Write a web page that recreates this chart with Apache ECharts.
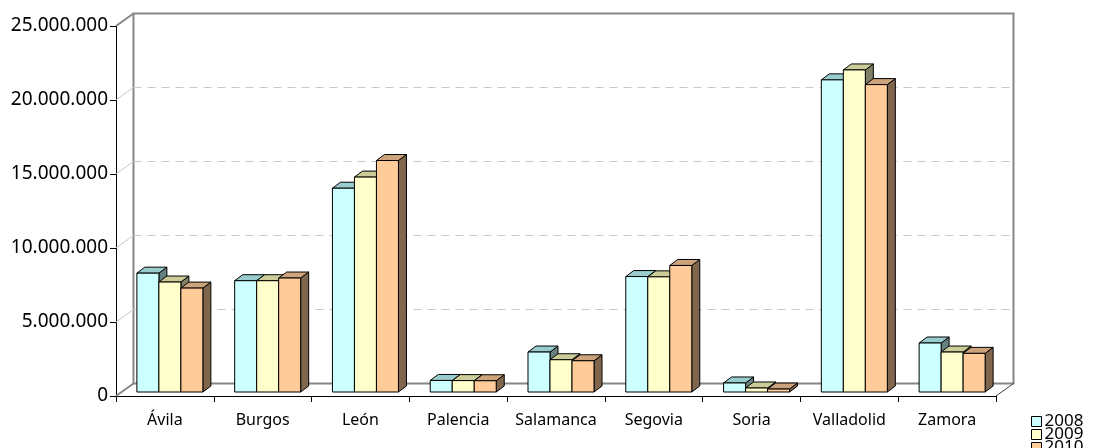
<!DOCTYPE html>
<html>
<head>
<meta charset="utf-8">
<script src="https://cdn.jsdelivr.net/npm/echarts@6/dist/echarts.min.js"></script>
<style>
html,body{margin:0;padding:0;background:#fff;}
#main{width:1120px;height:448px;}
</style>
</head>
<body>
<div id="main"></div>
<script>
var categories = ['Ávila','Burgos','León','Palencia','Salamanca','Segovia','Soria','Valladolid','Zamora'];
var seriesNames = ['2008','2009','2010'];
var values2008 = [8030000, 7520000, 13770000, 780000, 2700000, 7800000, 610000, 21090000, 3310000];
var values2009 = [7430000, 7520000, 14520000, 770000, 2180000, 7780000, 270000, 21760000, 2700000];
var values2010 = [7020000, 7700000, 15640000, 760000, 2110000, 8550000, 200000, 20770000, 2610000];
var yTicks = [0, 5000000, 10000000, 15000000, 20000000, 25000000];

var fills = ['#CCFFFF', '#FFFFCC', '#FFCC99'];
var tops = ['#99CCCC', '#CCCC99', '#CCA37A'];
var sides = ['#668080', '#808066', '#80664D'];
var allValues = [values2008, values2009, values2010];

var DEPTH_X = 17.5, DEPTH_Y = -12.5;   // wall depth
var FX = 5, FY = -4;                   // bar front plane offset
var DX = 8, DY = -6;                   // bar depth

function fmt(v){ return String(v).replace(/\B(?=(\d{3})+(?!\d))/g, '.'); }

function barRenderer(s){
  return function(params, api){
    var c = api.value(0), v = api.value(1);
    var p0 = api.coord([c, 0]);
    var p1 = api.coord([c, v]);
    var cw = api.size([1, 0])[0];
    var bw = cw * 0.225;
    var x = p0[0] - 1.5 * bw + s * bw + FX;
    var yb = p0[1] + FY, yt = p1[1] + FY;
    var st = {stroke:'#000', lineWidth:1, lineJoin:'round'};
    return {
      type:'group',
      children:[
        {type:'polygon', shape:{points:[[x+bw,yt],[x+bw+DX,yt+DY],[x+bw+DX,yb+DY],[x+bw,yb]]},
         style:Object.assign({fill:sides[s]}, st)},
        {type:'polygon', shape:{points:[[x,yt],[x+bw,yt],[x+bw+DX,yt+DY],[x+DX,yt+DY]]},
         style:Object.assign({fill:tops[s]}, st)},
        {type:'rect', shape:{x:x, y:yt, width:bw, height:yb-yt},
         style:Object.assign({fill:fills[s]}, st)}
      ]
    };
  };
}

var series = [];
series.push({
  type:'custom', name:'frame', xAxisIndex:0, yAxisIndex:0, silent:true, z:1,
  data: yTicks.map(function(t){ return [0, t]; }),
  renderItem:function(params, api){
    var cs = params.coordSys;
    var v = api.value(1);
    var y = api.coord([0, v])[1];
    var edge = (v === yTicks[0] || v === yTicks[yTicks.length-1]);
    var children = [{
      type:'line', shape:{x1:cs.x, y1:y, x2:cs.x+DEPTH_X, y2:y+DEPTH_Y},
      style:{stroke: edge ? '#868686' : '#C8C8C8', lineWidth: edge ? 2 : 1}
    }];
    if (v === yTicks[0]) {
      children.push({
        type:'line', shape:{x1:cs.x+cs.width, y1:y, x2:cs.x+cs.width+DEPTH_X, y2:y+DEPTH_Y},
        style:{stroke:'#404040', lineWidth:1}
      });
    }
    return {type:'group', children:children};
  }
});
for (var s = 0; s < 3; s++) {
  series.push({
    type:'custom', name:seriesNames[s], xAxisIndex:0, yAxisIndex:0, z:5,
    itemStyle:{color:fills[s], borderColor:'#000', borderWidth:1},
    data: allValues[s].map(function(v, i){ return [i, v]; }),
    renderItem: barRenderer(s)
  });
}

var legendTops = [413, 426, 439];
var legends = seriesNames.map(function(n, i){
  return {
    data:[n], orient:'vertical', left:1031, top:legendTops[i], icon:'rect',
    itemWidth:10, itemHeight:10, itemGap:0, padding:0,
    itemStyle:{borderColor:'#000', borderWidth:1},
    textStyle:{fontSize:17, fontFamily:'Noto Sans', color:'#000', padding:[0,0,0,-2]}
  };
});

var option = {
  backgroundColor:'#fff',
  animation:false,
  grid:[
    {left:116, top:26, right:124, bottom:52, containLabel:false},
    {left:133.5, top:13.5, right:106.5, bottom:64.5, show:true, borderColor:'#868686', borderWidth:2, backgroundColor:'transparent', z:0}
  ],
  legend:legends,
  xAxis:[
    {type:'category', gridIndex:0, data:categories, boundaryGap:true,
     axisLine:{lineStyle:{color:'#000', width:1}},
     axisTick:{show:true, length:6, interval:0, lineStyle:{color:'#000'}},
     axisLabel:{interval:0, margin:16, fontSize:16, fontFamily:'Noto Sans', color:'#000'},
     splitLine:{show:false}},
    {type:'category', gridIndex:1, data:categories, show:false}
  ],
  yAxis:[
    {type:'value', gridIndex:0, min:0, max:25000000, interval:5000000,
     axisLine:{show:true, lineStyle:{color:'#000', width:1}},
     axisTick:{show:true, length:6, lineStyle:{color:'#000'}},
     axisLabel:{formatter:fmt, margin:8, fontSize:19, fontFamily:'Noto Sans', color:'#000'},
     splitLine:{show:false}},
    {type:'value', gridIndex:1, min:0, max:25000000, interval:5000000,
     axisLine:{show:false}, axisTick:{show:false}, axisLabel:{show:false},
     splitLine:{show:true, showMinLine:false, showMaxLine:false, lineStyle:{color:'#C8C8C8', type:[8,6], width:1}}}
  ],
  series:series
};

var chart = echarts.init(document.getElementById('main'), null, {renderer:'canvas'});
chart.setOption(option);
</script>
</body>
</html>
